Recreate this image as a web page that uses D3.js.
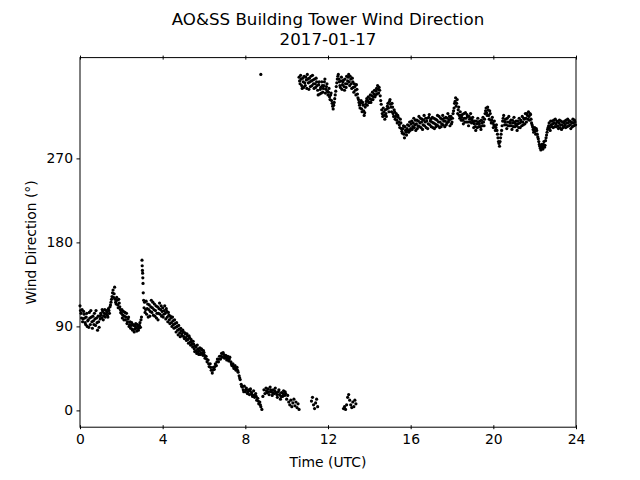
<!DOCTYPE html>
<html>
<head>
<meta charset="utf-8">
<script src="https://cdn.jsdelivr.net/npm/d3@7"></script>
<style>
  html, body { margin: 0; padding: 0; background: #fff; }
  svg { display: block; }
  text { font-family: "DejaVu Sans", sans-serif; fill: #000; }
</style>
</head>
<body>
<script>
// ---------------- DATA ----------------
const titleLines = ["AO&SS Building Tower Wind Direction", "2017-01-17"];
const xLabel = "Time (UTC)";
const yLabel = "Wind Direction (°)";
const xTicks = [0, 4, 8, 12, 16, 20, 24];
const yTicks = [0, 90, 180, 270];

// Lower branch (wind from N to E, early part of the day)
const lowHours = [
  0.00,0.05,0.10,0.15,0.20,0.25,0.30,0.35,0.40,0.45,0.50,0.55,0.60,0.65,0.70,0.75,0.80,0.85,0.90,0.95,
  1.00,1.05,1.10,1.15,1.20,1.25,1.30,1.35,1.40,1.45,1.50,1.55,1.60,1.65,1.70,1.75,1.80,1.85,1.90,1.95,
  2.00,2.05,2.10,2.15,2.20,2.25,2.30,2.35,2.40,2.45,2.50,2.55,2.60,2.65,2.70,2.75,2.80,2.85,2.90,2.95,
  3.00,3.01,3.02,3.03,3.04,3.05,3.06,3.08,3.10,3.15,3.20,3.25,3.30,3.35,3.40,3.45,3.50,3.55,3.60,3.65,3.70,3.75,3.80,3.85,3.90,3.95,
  4.00,4.05,4.10,4.15,4.20,4.25,4.30,4.35,4.40,4.45,4.50,4.55,4.60,4.65,4.70,4.75,4.80,4.85,4.90,4.95,
  5.00,5.05,5.10,5.15,5.20,5.25,5.30,5.35,5.40,5.45,5.50,5.55,5.60,5.65,5.70,5.75,5.80,5.85,5.90,5.95,
  6.00,6.05,6.10,6.15,6.20,6.25,6.30,6.35,6.40,6.45,6.50,6.55,6.60,6.65,6.70,6.75,6.80,6.85,6.90,6.95,
  7.00,7.05,7.10,7.15,7.20,7.25,7.30,7.35,7.40,7.45,7.50,7.55,7.60,7.65,7.70,7.75,7.80,7.85,7.90,7.95,
  8.00,8.05,8.10,8.15,8.20,8.25,8.30,8.35,8.40,8.45,8.50,8.55,8.60,8.65,8.70,8.75,8.80,8.85,8.90,8.95,
  9.00,9.05,9.10,9.15,9.20,9.25,9.30,9.35,9.40,9.45,9.50,9.55,9.60,9.65,9.70,9.75,9.80,9.85,9.90,9.95,
  10.00,10.05,10.10,10.15,10.20,10.25,10.30,10.35,10.40,10.45,10.50,10.55,10.60,
  11.20,11.25,11.30,11.35,11.40,11.45,11.50,
  12.75,12.80,12.85,12.90,12.95,13.00,13.05,13.10,13.15,13.20,13.25,13.30,13.35
];
const lowDir = [
  112,104,108,98,103,94,100,90,97,105,92,100,88,96,104,91,99,86,95,101,
  104,99,106,101,108,103,105,100,107,111,116,122,129,125,119,114,118,110,115,108,
  104,99,106,101,97,104,95,100,92,88,94,86,91,87,93,85,90,88,94,97,
  161,155,150,147,142,136,126,118,110,105,117,109,100,113,106,118,110,102,114,107,99,111,104,115,108,101,
  110,103,112,98,106,95,102,93,99,90,96,88,93,84,90,81,87,79,85,80,
  84,77,82,75,80,72,78,70,74,68,71,63,68,61,66,60,67,62,65,59,
  62,56,58,52,54,47,50,43,40,46,44,50,48,55,52,58,55,61,57,60,
  56,59,54,58,53,57,52,48,50,45,48,43,46,41,37,33,28,25,22,26,
  20,24,18,22,17,23,19,15,21,14,18,11,13,7,9,4,1,15,22,18,
  24,19,23,17,25,20,16,22,18,24,19,14,20,17,12,19,15,21,16,18,
  12,16,9,6,11,4,8,12,5,9,3,7,1,
  10,14,6,2,8,12,4,
  2,4,1,6,14,17,11,6,3,9,4,11,7
];
// Lower branch, in-between samples
const lowHoursB = [
  0.025,0.075,0.125,0.175,0.225,0.275,0.325,0.375,0.425,0.475,0.525,0.575,0.625,0.675,0.725,0.775,0.825,0.875,0.925,0.975,
  1.025,1.075,1.125,1.175,1.225,1.275,1.325,1.375,1.425,1.475,1.525,1.575,1.625,1.675,1.725,1.775,1.825,1.875,1.925,1.975,
  2.025,2.075,2.125,2.175,2.225,2.275,2.325,2.375,2.425,2.475,2.525,2.575,2.625,2.675,2.725,2.775,2.825,2.875,2.925,2.975,
  3.125,3.175,3.225,3.275,3.325,3.375,3.425,3.475,3.525,3.575,3.625,3.675,3.725,3.775,3.825,3.875,3.925,3.975,
  4.025,4.075,4.125,4.175,4.225,4.275,4.325,4.375,4.425,4.475,4.525,4.575,4.625,4.675,4.725,4.775,4.825,4.875,4.925,4.975,
  5.025,5.075,5.125,5.175,5.225,5.275,5.325,5.375,5.425,5.475,5.525,5.575,5.625,5.675,5.725,5.775,5.825,5.875,5.925,5.975,
  6.025,6.125,6.225,6.325,6.425,6.525,6.625,6.725,6.825,6.925,
  7.025,7.125,7.225,7.325,7.425,7.525,7.625,7.725,7.825,7.925,
  8.025,8.125,8.225,8.325,8.425,8.525,8.625,8.725,
  9.025,9.125,9.225,9.325,9.425,9.525,9.625,9.725,9.825,9.925
];
const lowDirB = [
  107,99,95,106,99,92,104,96,89,99,107,95,101,92,98,107,94,101,89,98,
  102,108,97,104,100,107,102,109,104,113,119,126,121,132,116,121,113,119,111,105,
  108,102,97,105,100,93,98,90,95,91,87,92,84,90,88,92,86,91,89,100,
  116,108,103,114,108,101,111,105,116,108,101,112,104,97,109,103,112,106,
  100,107,104,109,100,105,97,101,94,100,92,97,89,94,86,91,83,88,82,86,
  79,83,78,82,76,80,73,76,71,74,66,69,64,70,63,64,60,66,61,64,
  59,55,50,46,43,47,52,55,58,62,
  58,56,55,50,47,45,43,35,26,20,
  22,20,21,17,16,15,10,6,
  21,20,22,19,21,17,22,15,18,20
];

// Upper branch (wind from NW, later part of the day)
const highHours = [
  8.75,
  10.60,10.65,10.70,10.75,10.80,10.85,10.90,10.95,
  11.00,11.05,11.10,11.15,11.20,11.25,11.30,11.35,11.40,11.45,11.50,11.55,11.60,11.65,11.70,11.75,11.80,11.85,11.90,11.95,
  12.00,12.05,12.10,12.15,12.20,12.25,12.30,12.35,12.40,12.45,12.50,12.55,12.60,12.65,12.70,12.75,12.80,12.85,12.90,12.95,
  13.00,13.05,13.10,13.15,13.20,13.25,13.30,13.35,13.40,13.45,13.50,13.55,13.60,13.65,13.70,13.75,13.80,13.85,13.90,13.95,
  14.00,14.05,14.10,14.15,14.20,14.25,14.30,14.35,14.40,14.45,14.50,14.55,14.60,14.65,14.70,14.75,14.80,14.85,14.90,14.95,
  15.00,15.05,15.10,15.15,15.20,15.25,15.30,15.35,15.40,15.45,15.50,15.55,15.60,15.65,15.70,15.75,15.80,15.85,15.90,15.95,
  16.00,16.05,16.10,16.15,16.20,16.25,16.30,16.35,16.40,16.45,16.50,16.55,16.60,16.65,16.70,16.75,16.80,16.85,16.90,16.95,
  17.00,17.05,17.10,17.15,17.20,17.25,17.30,17.35,17.40,17.45,17.50,17.55,17.60,17.65,17.70,17.75,17.80,17.85,17.90,17.95,
  18.00,18.05,18.10,18.15,18.20,18.25,18.30,18.35,18.40,18.45,18.50,18.55,18.60,18.65,18.70,18.75,18.80,18.85,18.90,18.95,
  19.00,19.05,19.10,19.15,19.20,19.25,19.30,19.35,19.40,19.45,19.50,19.55,19.60,19.65,19.70,19.75,19.80,19.85,19.90,19.95,
  20.00,20.05,20.10,20.15,20.20,20.25,20.30,20.35,20.40,20.45,20.50,20.55,20.60,20.65,20.70,20.75,20.80,20.85,20.90,20.95,
  21.00,21.05,21.10,21.15,21.20,21.25,21.30,21.35,21.40,21.45,21.50,21.55,21.60,21.65,21.70,21.75,21.80,21.85,21.90,21.95,
  22.00,22.05,22.10,22.15,22.20,22.25,22.30,22.35,22.40,22.45,22.50,22.55,22.60,22.65,22.70,22.75,22.80,22.85,22.90,22.95,
  23.00,23.05,23.10,23.15,23.20,23.25,23.30,23.35,23.40,23.45,23.50,23.55,23.60,23.65,23.70,23.75,23.80,23.85,23.90,23.95
];
const highDir = [
  360,
  357,350,355,345,352,358,348,354,
  360,351,356,347,353,359,350,355,346,352,343,349,339,346,352,341,348,355,344,350,
  338,345,333,340,329,323,330,338,347,355,360,352,346,357,349,354,343,350,358,353,
  360,348,355,345,352,341,347,338,344,335,330,324,332,320,327,316,325,331,327,336,
  330,338,333,341,336,343,338,345,348,340,343,332,322,315,320,312,318,323,329,320,
  333,325,329,318,322,312,318,308,314,306,312,302,297,305,292,300,295,306,298,309,
  302,310,304,313,306,300,311,305,315,308,303,312,306,316,309,303,313,307,317,310,
  304,314,308,302,312,306,316,309,303,313,307,316,310,304,314,308,318,311,305,315,
  309,318,324,331,326,333,322,316,320,311,317,307,313,319,309,315,305,312,318,308,
  314,303,310,300,307,313,304,310,301,308,314,305,318,324,316,322,312,318,308,314,
  303,310,300,306,296,288,283,292,300,310,316,306,312,302,309,315,305,311,301,308,
  314,304,310,300,307,313,303,309,315,306,312,318,309,316,320,311,317,308,304,298,
  303,296,300,293,288,283,279,285,280,288,284,292,298,303,308,300,306,310,303,308,
  312,304,309,302,311,306,301,309,304,310,303,308,312,305,310,302,308,312,305,309
];
// Upper branch, in-between samples
const highHoursB = [
  10.625,10.675,10.725,10.775,10.825,10.875,10.925,10.975,
  11.025,11.075,11.125,11.175,11.225,11.275,11.325,11.375,11.425,11.475,11.525,11.575,11.625,11.675,11.725,11.775,11.825,11.875,11.925,11.975,
  12.025,12.075,12.125,12.175,12.225,12.275,12.325,12.375,12.425,12.475,12.525,12.575,12.625,12.675,12.725,12.775,12.825,12.875,12.925,12.975,
  13.025,13.075,13.125,13.175,13.225,13.275,13.325,13.375,13.425,13.475,13.525,13.575,13.625,13.675,13.725,13.775,13.825,13.875,13.925,13.975,
  14.025,14.075,14.125,14.175,14.225,14.275,14.325,14.375,14.425,14.475,14.525,14.575,14.625,14.675,14.725,14.775,14.825,14.875,14.925,14.975,
  15.025,15.075,15.125,15.175,15.225,15.275,15.325,15.375,15.425,15.475,15.525,15.575,15.625,15.675,15.725,15.775,15.825,15.875,15.925,15.975,
  16.025,16.075,16.125,16.175,16.225,16.275,16.325,16.375,16.425,16.475,16.525,16.575,16.625,16.675,16.725,16.775,16.825,16.875,16.925,16.975,
  17.025,17.075,17.125,17.175,17.225,17.275,17.325,17.375,17.425,17.475,17.525,17.575,17.625,17.675,17.725,17.775,17.825,17.875,17.925,17.975,
  18.025,18.075,18.125,18.175,18.225,18.275,18.325,18.375,18.425,18.475,18.525,18.575,18.625,18.675,18.725,18.775,18.825,18.875,18.925,18.975,
  19.025,19.075,19.125,19.175,19.225,19.275,19.325,19.375,19.425,19.475,19.525,19.575,19.625,19.675,19.725,19.775,19.825,19.875,19.925,19.975,
  20.025,20.075,20.125,20.175,20.225,20.275,20.325,20.375,20.425,20.475,20.525,20.575,20.625,20.675,20.725,20.775,20.825,20.875,20.925,20.975,
  21.025,21.075,21.125,21.175,21.225,21.275,21.325,21.375,21.425,21.475,21.525,21.575,21.625,21.675,21.725,21.775,21.825,21.875,21.925,21.975,
  22.025,22.075,22.125,22.175,22.225,22.275,22.325,22.375,22.425,22.475,22.525,22.575,22.625,22.675,22.725,22.775,22.825,22.875,22.925,22.975,
  23.025,23.075,23.125,23.175,23.225,23.275,23.325,23.375,23.425,23.475,23.525,23.575,23.625,23.675,23.725,23.775,23.825,23.875,23.925,23.975
];
const highDirB = [
  353,359,348,356,346,351,357,345,
  355,344,352,358,348,354,345,350,356,348,338,352,344,340,348,345,352,340,347,342,
  341,336,338,332,326,327,334,342,351,358,355,348,353,344,352,347,355,346,350,357,
  352,358,350,356,346,350,343,349,339,333,327,329,323,330,321,319,328,334,332,330,
  334,330,337,333,339,336,342,339,344,346,337,328,318,324,316,322,315,326,324,331,
  328,320,325,315,320,315,311,316,309,303,308,299,302,296,304,298,302,300,305,300,
  307,301,308,303,311,307,302,310,304,313,309,301,311,305,313,310,302,314,306,312,
  309,303,313,307,304,311,305,315,309,304,312,306,313,310,306,313,309,315,312,307,
  313,321,329,335,329,318,325,313,316,314,311,318,309,313,317,309,315,309,313,311,
  309,307,304,310,303,309,307,304,311,305,309,312,321,319,325,316,321,311,311,308,
  306,304,303,300,292,286,288,296,305,313,310,309,306,313,305,309,308,305,311,304,
  309,307,305,310,303,308,311,305,309,313,307,313,318,312,315,318,312,306,301,300,
  299,302,296,291,285,281,283,282,285,282,289,295,301,305,303,310,304,307,311,304,
  307,310,305,308,303,310,306,303,308,306,311,304,308,310,306,309,304,308,311,306
];

// ---------------- CHART ----------------
const W = 640, H = 480;
const margin = { left: 80, right: 64, top: 57.6, bottom: 52.8 };
const pw = W - margin.left - margin.right;
const ph = H - margin.top - margin.bottom;

const svg = d3.select("body").append("svg").attr("width", W).attr("height", H);

const x = d3.scaleLinear().domain([0, 24]).range([margin.left, margin.left + pw]);
const y = d3.scaleLinear().domain([-18, 378]).range([margin.top + ph, margin.top]);

const toPts = (hs, ds) => hs.map((h, i) => ({ h, d: ds[i] }));
const points = toPts(lowHours, lowDir)
  .concat(toPts(lowHoursB, lowDirB))
  .concat(toPts(highHours, highDir))
  .concat(toPts(highHoursB, highDirB));

svg.append("g").selectAll("circle").data(points).enter().append("circle")
  .attr("cx", d => x(d.h))
  .attr("cy", d => y(d.d))
  .attr("r", 1.6)
  .attr("fill", "#000");

// frame
svg.append("rect")
  .attr("x", margin.left).attr("y", margin.top)
  .attr("width", pw).attr("height", ph)
  .attr("fill", "none").attr("stroke", "#000").attr("stroke-width", 1);

// bottom axis: ticks crossing the spine
const xAxis = svg.append("g").attr("transform", `translate(0,${margin.top + ph})`)
  .call(d3.axisBottom(x).tickValues(xTicks).tickFormat(d3.format("d")).tickSize(2).tickPadding(4));
xAxis.select(".domain").remove();
xAxis.selectAll(".tick line").attr("y1", -2).attr("y2", 2);
xAxis.selectAll(".tick text").attr("font-size", 13.9).attr("font-family", "DejaVu Sans").attr("dy", "0.71em").attr("y", 7);

// top ticks
const xTop = svg.append("g").attr("transform", `translate(0,${margin.top})`)
  .call(d3.axisTop(x).tickValues(xTicks).tickFormat("").tickSize(2));
xTop.select(".domain").remove();
xTop.selectAll(".tick line").attr("y1", -2).attr("y2", 2);

// left axis
const yAxis = svg.append("g").attr("transform", `translate(${margin.left},0)`)
  .call(d3.axisLeft(y).tickValues(yTicks).tickFormat(d3.format("d")).tickSize(3.5).tickPadding(3.5));
yAxis.select(".domain").remove();
yAxis.selectAll(".tick text").attr("font-size", 13.9).attr("font-family", "DejaVu Sans");

svg.selectAll(".tick line").attr("stroke", "#000");

// labels
svg.append("text").attr("x", margin.left + pw / 2).attr("y", 467)
  .attr("text-anchor", "middle").attr("font-size", 13.9).text(xLabel);
svg.append("text")
  .attr("transform", `translate(36,${margin.top + ph / 2}) rotate(-90)`)
  .attr("text-anchor", "middle").attr("font-size", 13.9).text(yLabel);

// title
svg.append("text").attr("x", margin.left + pw / 2).attr("y", 25)
  .attr("text-anchor", "middle").attr("font-size", 16.67).text(titleLines[0]);
svg.append("text").attr("x", margin.left + pw / 2).attr("y", 45)
  .attr("text-anchor", "middle").attr("font-size", 16.67).text(titleLines[1]);
</script>
</body>
</html>
